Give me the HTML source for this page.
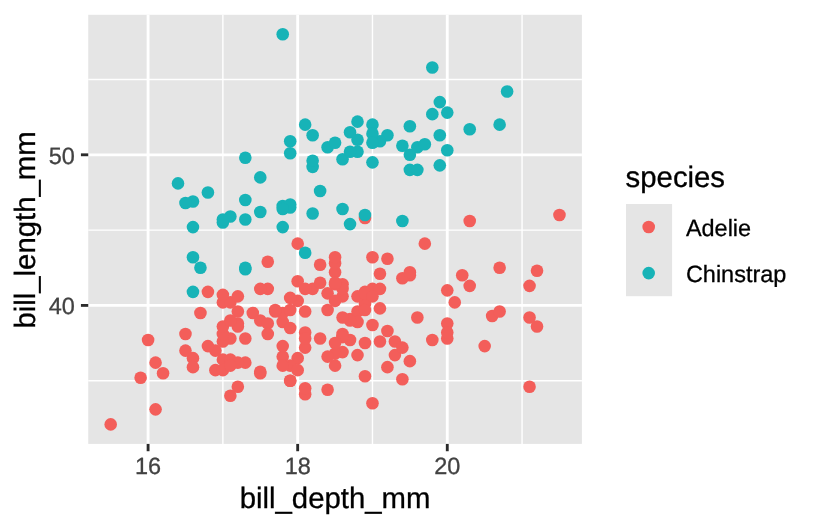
<!DOCTYPE html>
<html><head><meta charset="utf-8"><title>plot</title>
<style>html,body{margin:0;padding:0;background:#fff;}svg{display:block;will-change:transform;}text{font-family:"Liberation Sans",sans-serif;text-rendering:geometricPrecision;}</style></head><body>
<svg width="816" height="528" viewBox="0 0 816 528">
<rect width="816" height="528" fill="#fff"/>
<rect x="88.25" y="14.8" width="493.65" height="429.10" fill="#E5E5E5"/>
<g stroke="#fff" stroke-width="1.42" opacity="1">
<line x1="222.88" x2="222.88" y1="14.8" y2="443.9"/>
<line x1="372.47" x2="372.47" y1="14.8" y2="443.9"/>
<line x1="522.06" x2="522.06" y1="14.8" y2="443.9"/>
<line y1="380.72" y2="380.72" x1="88.25" x2="581.9"/>
<line y1="230.10" y2="230.10" x1="88.25" x2="581.9"/>
<line y1="79.49" y2="79.49" x1="88.25" x2="581.9"/>
</g>
<g stroke="#fff" stroke-width="2.85">
<line x1="148.09" x2="148.09" y1="14.8" y2="443.9"/>
<line x1="297.68" x2="297.68" y1="14.8" y2="443.9"/>
<line x1="447.27" x2="447.27" y1="14.8" y2="443.9"/>
<line y1="305.41" y2="305.41" x1="88.25" x2="581.9"/>
<line y1="154.80" y2="154.80" x1="88.25" x2="581.9"/>
</g>
<g fill="#F35E5A">
<circle cx="350.03" cy="318.97" r="6.3"/>
<circle cx="252.80" cy="312.94" r="6.3"/>
<circle cx="297.68" cy="300.89" r="6.3"/>
<circle cx="394.91" cy="355.11" r="6.3"/>
<circle cx="492.15" cy="315.95" r="6.3"/>
<circle cx="282.72" cy="321.98" r="6.3"/>
<circle cx="417.35" cy="317.46" r="6.3"/>
<circle cx="305.16" cy="394.27" r="6.3"/>
<circle cx="462.23" cy="275.29" r="6.3"/>
<circle cx="230.36" cy="338.55" r="6.3"/>
<circle cx="245.32" cy="338.55" r="6.3"/>
<circle cx="267.76" cy="288.84" r="6.3"/>
<circle cx="537.02" cy="326.50" r="6.3"/>
<circle cx="529.54" cy="386.74" r="6.3"/>
<circle cx="282.72" cy="356.62" r="6.3"/>
<circle cx="372.47" cy="324.99" r="6.3"/>
<circle cx="499.62" cy="267.76" r="6.3"/>
<circle cx="327.60" cy="389.75" r="6.3"/>
<circle cx="559.46" cy="215.04" r="6.3"/>
<circle cx="320.12" cy="338.55" r="6.3"/>
<circle cx="350.03" cy="340.05" r="6.3"/>
<circle cx="387.43" cy="367.16" r="6.3"/>
<circle cx="305.16" cy="332.52" r="6.3"/>
<circle cx="237.84" cy="323.48" r="6.3"/>
<circle cx="364.99" cy="376.20" r="6.3"/>
<circle cx="342.55" cy="296.37" r="6.3"/>
<circle cx="290.20" cy="297.88" r="6.3"/>
<circle cx="342.55" cy="337.04" r="6.3"/>
<circle cx="364.99" cy="297.88" r="6.3"/>
<circle cx="200.44" cy="312.94" r="6.3"/>
<circle cx="305.16" cy="347.58" r="6.3"/>
<circle cx="282.72" cy="312.94" r="6.3"/>
<circle cx="364.99" cy="291.85" r="6.3"/>
<circle cx="222.88" cy="359.63" r="6.3"/>
<circle cx="529.54" cy="317.46" r="6.3"/>
<circle cx="447.27" cy="323.48" r="6.3"/>
<circle cx="335.07" cy="272.28" r="6.3"/>
<circle cx="394.91" cy="341.56" r="6.3"/>
<circle cx="379.95" cy="308.42" r="6.3"/>
<circle cx="297.68" cy="358.13" r="6.3"/>
<circle cx="327.60" cy="293.36" r="6.3"/>
<circle cx="335.07" cy="365.66" r="6.3"/>
<circle cx="424.83" cy="243.66" r="6.3"/>
<circle cx="215.40" cy="350.59" r="6.3"/>
<circle cx="357.51" cy="311.43" r="6.3"/>
<circle cx="372.47" cy="288.84" r="6.3"/>
<circle cx="364.99" cy="343.06" r="6.3"/>
<circle cx="290.20" cy="365.66" r="6.3"/>
<circle cx="537.02" cy="270.77" r="6.3"/>
<circle cx="275.24" cy="311.43" r="6.3"/>
<circle cx="364.99" cy="303.90" r="6.3"/>
<circle cx="290.20" cy="380.72" r="6.3"/>
<circle cx="409.87" cy="275.29" r="6.3"/>
<circle cx="305.16" cy="388.25" r="6.3"/>
<circle cx="342.55" cy="284.32" r="6.3"/>
<circle cx="260.28" cy="320.47" r="6.3"/>
<circle cx="357.51" cy="296.37" r="6.3"/>
<circle cx="192.96" cy="358.13" r="6.3"/>
<circle cx="379.95" cy="341.56" r="6.3"/>
<circle cx="215.40" cy="370.17" r="6.3"/>
<circle cx="529.54" cy="285.83" r="6.3"/>
<circle cx="222.88" cy="341.56" r="6.3"/>
<circle cx="312.64" cy="288.84" r="6.3"/>
<circle cx="230.36" cy="359.63" r="6.3"/>
<circle cx="297.68" cy="281.31" r="6.3"/>
<circle cx="163.05" cy="373.19" r="6.3"/>
<circle cx="379.95" cy="288.84" r="6.3"/>
<circle cx="192.96" cy="367.16" r="6.3"/>
<circle cx="402.39" cy="278.30" r="6.3"/>
<circle cx="372.47" cy="403.31" r="6.3"/>
<circle cx="327.60" cy="309.93" r="6.3"/>
<circle cx="237.84" cy="311.43" r="6.3"/>
<circle cx="364.99" cy="218.05" r="6.3"/>
<circle cx="260.28" cy="373.19" r="6.3"/>
<circle cx="335.07" cy="263.24" r="6.3"/>
<circle cx="207.92" cy="291.85" r="6.3"/>
<circle cx="402.39" cy="347.58" r="6.3"/>
<circle cx="155.57" cy="362.64" r="6.3"/>
<circle cx="379.95" cy="273.78" r="6.3"/>
<circle cx="237.84" cy="386.74" r="6.3"/>
<circle cx="267.76" cy="261.73" r="6.3"/>
<circle cx="357.51" cy="355.11" r="6.3"/>
<circle cx="402.39" cy="379.21" r="6.3"/>
<circle cx="282.72" cy="346.08" r="6.3"/>
<circle cx="469.71" cy="285.83" r="6.3"/>
<circle cx="409.87" cy="361.14" r="6.3"/>
<circle cx="342.55" cy="352.10" r="6.3"/>
<circle cx="387.43" cy="331.01" r="6.3"/>
<circle cx="357.51" cy="321.98" r="6.3"/>
<circle cx="297.68" cy="370.17" r="6.3"/>
<circle cx="305.16" cy="288.84" r="6.3"/>
<circle cx="230.36" cy="395.78" r="6.3"/>
<circle cx="305.16" cy="311.43" r="6.3"/>
<circle cx="245.32" cy="362.64" r="6.3"/>
<circle cx="364.99" cy="293.36" r="6.3"/>
<circle cx="342.55" cy="334.03" r="6.3"/>
<circle cx="335.07" cy="300.89" r="6.3"/>
<circle cx="155.57" cy="409.33" r="6.3"/>
<circle cx="335.07" cy="257.21" r="6.3"/>
<circle cx="290.20" cy="380.72" r="6.3"/>
<circle cx="447.27" cy="290.35" r="6.3"/>
<circle cx="148.09" cy="340.05" r="6.3"/>
<circle cx="447.27" cy="338.55" r="6.3"/>
<circle cx="342.55" cy="337.04" r="6.3"/>
<circle cx="364.99" cy="309.93" r="6.3"/>
<circle cx="237.84" cy="326.50" r="6.3"/>
<circle cx="447.27" cy="332.52" r="6.3"/>
<circle cx="222.88" cy="334.03" r="6.3"/>
<circle cx="372.47" cy="257.21" r="6.3"/>
<circle cx="185.48" cy="334.03" r="6.3"/>
<circle cx="469.71" cy="221.07" r="6.3"/>
<circle cx="275.24" cy="309.93" r="6.3"/>
<circle cx="409.87" cy="272.28" r="6.3"/>
<circle cx="499.62" cy="311.43" r="6.3"/>
<circle cx="320.12" cy="264.74" r="6.3"/>
<circle cx="222.88" cy="326.50" r="6.3"/>
<circle cx="484.67" cy="346.08" r="6.3"/>
<circle cx="222.88" cy="370.17" r="6.3"/>
<circle cx="342.55" cy="288.84" r="6.3"/>
<circle cx="237.84" cy="362.64" r="6.3"/>
<circle cx="432.31" cy="340.05" r="6.3"/>
<circle cx="222.88" cy="302.40" r="6.3"/>
<circle cx="335.07" cy="284.32" r="6.3"/>
<circle cx="140.61" cy="377.71" r="6.3"/>
<circle cx="372.47" cy="296.37" r="6.3"/>
<circle cx="267.76" cy="323.48" r="6.3"/>
<circle cx="320.12" cy="282.82" r="6.3"/>
<circle cx="230.36" cy="320.47" r="6.3"/>
<circle cx="297.68" cy="243.66" r="6.3"/>
<circle cx="290.20" cy="328.00" r="6.3"/>
<circle cx="387.43" cy="258.72" r="6.3"/>
<circle cx="335.07" cy="353.61" r="6.3"/>
<circle cx="335.07" cy="343.06" r="6.3"/>
<circle cx="267.76" cy="334.03" r="6.3"/>
<circle cx="260.28" cy="288.84" r="6.3"/>
<circle cx="260.28" cy="371.68" r="6.3"/>
<circle cx="454.75" cy="302.40" r="6.3"/>
<circle cx="185.48" cy="350.59" r="6.3"/>
<circle cx="290.20" cy="309.93" r="6.3"/>
<circle cx="230.36" cy="302.40" r="6.3"/>
<circle cx="237.84" cy="296.37" r="6.3"/>
<circle cx="110.69" cy="424.40" r="6.3"/>
<circle cx="222.88" cy="294.87" r="6.3"/>
<circle cx="207.92" cy="346.08" r="6.3"/>
<circle cx="350.03" cy="320.47" r="6.3"/>
<circle cx="342.55" cy="317.46" r="6.3"/>
<circle cx="327.60" cy="356.62" r="6.3"/>
<circle cx="282.72" cy="365.66" r="6.3"/>
<circle cx="305.16" cy="338.55" r="6.3"/>
<circle cx="230.36" cy="365.66" r="6.3"/>
<circle cx="335.07" cy="282.82" r="6.3"/>
</g>
<g fill="#17B3B7">
<circle cx="290.20" cy="207.51" r="6.3"/>
<circle cx="409.87" cy="154.80" r="6.3"/>
<circle cx="387.43" cy="135.22" r="6.3"/>
<circle cx="350.03" cy="224.08" r="6.3"/>
<circle cx="432.31" cy="114.13" r="6.3"/>
<circle cx="282.72" cy="227.09" r="6.3"/>
<circle cx="312.64" cy="213.54" r="6.3"/>
<circle cx="312.64" cy="135.22" r="6.3"/>
<circle cx="364.99" cy="215.04" r="6.3"/>
<circle cx="439.79" cy="135.22" r="6.3"/>
<circle cx="282.72" cy="206.00" r="6.3"/>
<circle cx="469.71" cy="129.19" r="6.3"/>
<circle cx="245.32" cy="199.98" r="6.3"/>
<circle cx="305.16" cy="124.67" r="6.3"/>
<circle cx="230.36" cy="216.55" r="6.3"/>
<circle cx="417.35" cy="147.27" r="6.3"/>
<circle cx="447.27" cy="150.28" r="6.3"/>
<circle cx="282.72" cy="34.30" r="6.3"/>
<circle cx="342.55" cy="209.02" r="6.3"/>
<circle cx="312.64" cy="166.85" r="6.3"/>
<circle cx="245.32" cy="269.26" r="6.3"/>
<circle cx="260.28" cy="177.39" r="6.3"/>
<circle cx="192.96" cy="257.21" r="6.3"/>
<circle cx="402.39" cy="145.76" r="6.3"/>
<circle cx="290.20" cy="204.50" r="6.3"/>
<circle cx="372.47" cy="124.67" r="6.3"/>
<circle cx="327.60" cy="147.27" r="6.3"/>
<circle cx="372.47" cy="162.33" r="6.3"/>
<circle cx="282.72" cy="209.02" r="6.3"/>
<circle cx="447.27" cy="112.62" r="6.3"/>
<circle cx="192.96" cy="291.85" r="6.3"/>
<circle cx="507.10" cy="91.54" r="6.3"/>
<circle cx="200.44" cy="267.76" r="6.3"/>
<circle cx="357.51" cy="139.73" r="6.3"/>
<circle cx="342.55" cy="159.31" r="6.3"/>
<circle cx="207.92" cy="192.45" r="6.3"/>
<circle cx="320.12" cy="190.94" r="6.3"/>
<circle cx="499.62" cy="124.67" r="6.3"/>
<circle cx="192.96" cy="201.49" r="6.3"/>
<circle cx="439.79" cy="102.08" r="6.3"/>
<circle cx="409.87" cy="169.86" r="6.3"/>
<circle cx="260.28" cy="212.03" r="6.3"/>
<circle cx="379.95" cy="141.24" r="6.3"/>
<circle cx="222.88" cy="222.57" r="6.3"/>
<circle cx="290.20" cy="141.24" r="6.3"/>
<circle cx="335.07" cy="142.75" r="6.3"/>
<circle cx="290.20" cy="153.29" r="6.3"/>
<circle cx="417.35" cy="169.86" r="6.3"/>
<circle cx="350.03" cy="132.20" r="6.3"/>
<circle cx="245.32" cy="157.81" r="6.3"/>
<circle cx="178.00" cy="183.41" r="6.3"/>
<circle cx="372.47" cy="133.71" r="6.3"/>
<circle cx="245.32" cy="219.56" r="6.3"/>
<circle cx="424.83" cy="144.25" r="6.3"/>
<circle cx="245.32" cy="267.76" r="6.3"/>
<circle cx="357.51" cy="121.66" r="6.3"/>
<circle cx="192.96" cy="227.09" r="6.3"/>
<circle cx="439.79" cy="165.34" r="6.3"/>
<circle cx="357.51" cy="151.78" r="6.3"/>
<circle cx="402.39" cy="221.07" r="6.3"/>
<circle cx="409.87" cy="126.18" r="6.3"/>
<circle cx="185.48" cy="202.99" r="6.3"/>
<circle cx="222.88" cy="219.56" r="6.3"/>
<circle cx="432.31" cy="67.44" r="6.3"/>
<circle cx="305.16" cy="252.70" r="6.3"/>
<circle cx="312.64" cy="160.82" r="6.3"/>
<circle cx="372.47" cy="142.75" r="6.3"/>
<circle cx="350.03" cy="151.78" r="6.3"/>
</g>
<g stroke="#2B2B2B" stroke-width="2.85">
<line x1="148.09" x2="148.09" y1="443.9" y2="451.23"/>
<line x1="297.68" x2="297.68" y1="443.9" y2="451.23"/>
<line x1="447.27" x2="447.27" y1="443.9" y2="451.23"/>
<line y1="305.41" y2="305.41" x1="80.92" x2="88.25"/>
<line y1="154.80" y2="154.80" x1="80.92" x2="88.25"/>
</g>
<g fill="#424242" stroke="#424242" stroke-width="0.3" font-size="23.47px">
<text x="148.09" y="473.7" text-anchor="middle">16</text>
<text x="297.68" y="473.7" text-anchor="middle">18</text>
<text x="447.27" y="473.7" text-anchor="middle">20</text>
<text x="74.8" y="313.61" text-anchor="end">40</text>
<text x="74.8" y="164.10" text-anchor="end">50</text>
</g>
<text x="335.07" y="508" text-anchor="middle" font-size="29.33px" fill="#000" stroke="#000" stroke-width="0.3">bill_depth_mm</text>
<text transform="translate(35.2,229.95) rotate(-90)" text-anchor="middle" font-size="29.33px" fill="#000" stroke="#000" stroke-width="0.3">bill_length_mm</text>
<text x="625.6" y="186.6" font-size="29.33px" fill="#000" stroke="#000" stroke-width="0.3">species</text>
<rect x="626" y="204" width="46.1" height="92.2" fill="#E5E5E5"/>
<circle cx="648.7" cy="227.0" r="6.3" fill="#F35E5A"/>
<circle cx="648.7" cy="273.1" r="6.3" fill="#17B3B7"/>
<g font-size="23.47px" fill="#000" stroke="#000" stroke-width="0.3"><text x="685.9" y="235.8">Adelie</text><text x="685.9" y="281.8">Chinstrap</text></g>
</svg></body></html>
